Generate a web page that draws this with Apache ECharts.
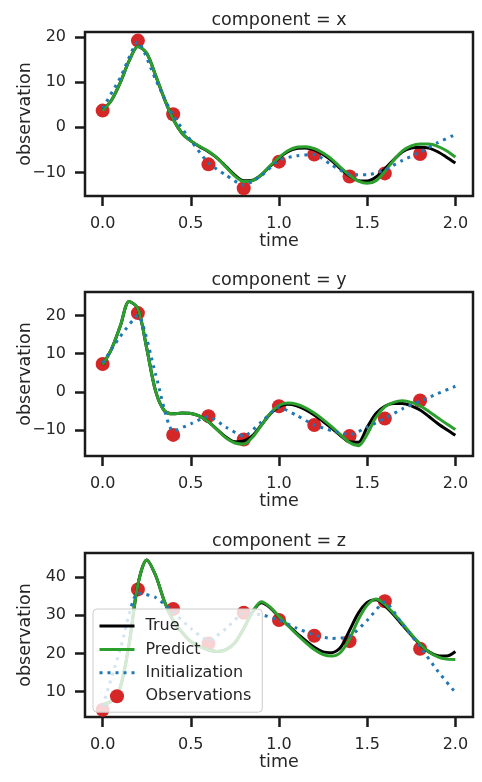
<!DOCTYPE html>
<html><head><meta charset="utf-8">
<script src="https://cdn.jsdelivr.net/npm/echarts@6/dist/echarts.min.js"></script>
<style>html,body{margin:0;padding:0;background:#fff}#c{width:482px;height:782px}</style>
</head><body><div id="c"></div>
<script>
// ---- data ----
const timeFine = [0.00,0.05,0.10,0.15,0.20,0.25,0.30,0.35,0.40,0.45,0.50,0.55,0.60,0.65,0.70,0.75,0.80,0.85,0.90,0.95,1.00,1.05,1.10,1.15,1.20,1.25,1.30,1.35,1.40,1.45,1.50,1.55,1.60,1.65,1.70,1.75,1.80,1.85,1.90,1.95,2.00];
const timeInit = [0.0,0.1,0.2,0.3,0.4,0.5,0.6,0.7,0.8,0.9,1.0,1.1,1.2,1.3,1.4,1.5,1.6,1.7,1.8,1.9,2.0];
const timeObs = [0.0,0.2,0.4,0.6,0.8,1.0,1.2,1.4,1.6,1.8];

const components = ['x','y','z'];

const trueX = [3.8,6.0,9.9,14.7,17.9,16.4,11.5,6.3,1.8,-1.3,-3.0,-4.3,-5.4,-6.8,-8.7,-10.6,-11.8,-11.7,-10.5,-8.6,-6.8,-5.4,-4.7,-4.6,-5.0,-6.0,-7.4,-9.2,-10.8,-11.8,-11.9,-11.0,-9.2,-7.2,-5.4,-4.6,-4.4,-4.6,-5.4,-6.6,-7.9];
const predX = [3.7,6.0,9.9,14.7,17.9,16.4,11.5,6.3,1.8,-1.3,-3.0,-4.2,-5.3,-6.8,-8.8,-10.8,-12.0,-11.8,-10.5,-8.5,-6.7,-5.2,-4.4,-4.3,-4.7,-5.7,-7.1,-8.9,-10.6,-11.9,-12.4,-11.8,-9.8,-7.3,-5.2,-4.1,-3.7,-3.7,-4.2,-5.2,-6.6];
const initX = [4.2,11.0,18.9,10.6,2.6,-2.9,-7.9,-10.6,-12.8,-10.7,-7.3,-6.3,-6.0,-8.4,-10.4,-10.5,-9.4,-7.3,-5.5,-3.4,-1.6];
const obsX  = [3.7,19.2,2.9,-8.2,-13.5,-7.6,-6.0,-10.9,-10.2,-5.9];

const trueY = [7.1,11.2,17.2,23.6,21.8,11.4,0.3,-4.9,-5.7,-5.5,-5.6,-6.3,-7.8,-9.8,-11.8,-13.0,-12.8,-11.4,-8.6,-5.7,-3.8,-3.2,-3.6,-4.6,-6.0,-7.7,-9.5,-11.4,-13.0,-13.1,-9.2,-5.6,-3.7,-3.0,-3.0,-3.6,-4.7,-6.4,-8.2,-9.8,-11.3];
const predY = [7.1,11.2,17.2,23.6,21.8,11.4,0.3,-4.9,-5.7,-5.5,-5.6,-6.3,-7.8,-9.9,-12.0,-13.3,-13.6,-11.8,-8.7,-5.6,-3.5,-2.9,-3.2,-4.1,-5.5,-7.2,-9.1,-11.2,-13.2,-14.0,-11.0,-6.6,-3.9,-2.7,-2.3,-2.7,-3.6,-5.1,-6.7,-8.3,-9.8];
const initY = [7.6,14.5,20.0,4.7,-10.2,-8.3,-6.4,-9.2,-11.5,-7.8,-4.0,-6.1,-8.6,-10.1,-11.1,-9.2,-6.9,-4.4,-2.4,-0.4,1.5];
const obsY  = [7.3,20.6,-11.2,-6.3,-12.4,-3.7,-8.6,-11.5,-6.9,-2.2];

const trueZ = [6.6,7.6,11.2,22.4,38.0,44.4,40.4,33.6,28.6,25.5,23.1,21.8,20.9,20.5,21.0,22.8,26.5,30.8,33.2,31.9,29.5,27.4,25.3,23.4,21.6,20.4,20.2,21.6,26.0,30.5,33.3,34.0,32.4,30.1,27.4,24.8,22.3,20.4,19.4,19.3,20.5];
const predZ = [6.6,7.6,11.2,22.4,38.0,44.4,40.4,33.6,28.6,25.5,23.1,21.8,20.9,20.5,21.0,22.8,26.5,30.9,33.5,32.1,29.6,27.3,25.0,22.9,21.0,19.7,19.3,20.3,23.8,28.8,32.6,34.2,32.8,30.4,27.8,25.0,22.4,20.4,19.1,18.5,18.4];
const initZ = [6.2,21.0,35.8,34.6,30.8,26.5,23.4,26.5,30.4,30.1,28.7,26.6,24.8,23.9,24.4,28.6,33.4,27.6,21.7,15.4,9.8];
const obsZ  = [5.3,36.7,31.6,22.6,30.6,28.7,24.6,23.2,33.6,21.2];

const xTicks = [0, 0.5, 1.0, 1.5, 2.0];
const yTicksX = [-10, 0, 10, 20];
const yTicksY = [-10, 0, 10, 20];
const yTicksZ = [10, 20, 30, 40];

// ---- layout/style ----
const FONT = 'DejaVu Sans';
const TXT = '#262626';
const panels = [
  {comp: components[0], tr: trueX, pr: predX, ini: initX, obs: obsX, yt: yTicksX, ymin: -15.2, ymax: 21.1, top: 32},
  {comp: components[1], tr: trueY, pr: predY, ini: initY, obs: obsY, yt: yTicksY, ymin: -16.7, ymax: 26.1, top: 292},
  {comp: components[2], tr: trueZ, pr: predZ, ini: initZ, obs: obsZ, yt: yTicksZ, ymin: 3.4, ymax: 46.2, top: 553}
];
const GL = 85, GW = 388, GH = 164;

const zip = (t, v) => t.map((x, i) => [x, v[i]]);
const fmtY = v => (v < 0 ? '\u2212' + Math.abs(v) : String(v));

const grid = [], xAxis = [], yAxis = [], series = [], graphic = [];
panels.forEach((p, i) => {
  grid.push({left: GL, top: p.top, width: GW, height: GH, containLabel: false, outerBoundsMode: 'none',
    show: true, borderColor: '#1a1a1a', borderWidth: 2.5, backgroundColor: 'transparent'});
  xAxis.push({
    type: 'value', gridIndex: i, min: -0.1, max: 2.1, position: 'bottom',
    name: 'time', nameLocation: 'middle', nameGap: 36, nameMoveOverlap: false,
    nameTextStyle: {fontFamily: FONT, fontSize: 17.5, color: TXT},
    axisLine: {show: false, onZero: false},
    splitLine: {show: false},
    axisTick: {show: true, length: 10, customValues: xTicks, lineStyle: {color: '#1a1a1a', width: 2.5}},
    axisLabel: {customValues: xTicks, formatter: v => v.toFixed(1), margin: 20, fontFamily: FONT, fontSize: 16, color: TXT}
  });
  yAxis.push({
    type: 'value', gridIndex: i, min: p.ymin, max: p.ymax, position: 'left',
    name: 'observation', nameLocation: 'middle', nameGap: 51, nameRotate: 90, nameMoveOverlap: false,
    nameTextStyle: {fontFamily: FONT, fontSize: 17.5, color: TXT},
    axisLine: {show: false, onZero: false},
    splitLine: {show: false},
    axisTick: {show: true, length: 10, customValues: p.yt, lineStyle: {color: '#1a1a1a', width: 2.5}},
    axisLabel: {customValues: p.yt, formatter: fmtY, margin: 19, fontFamily: FONT, fontSize: 16, color: TXT}
  });
  series.push({
    name: 'Observations', type: 'scatter', xAxisIndex: i, yAxisIndex: i, z: 1,
    symbol: 'circle', symbolSize: 14, itemStyle: {color: '#d62728', opacity: 1},
    data: zip(timeObs, p.obs)
  });
  series.push({
    name: 'True', type: 'line', xAxisIndex: i, yAxisIndex: i, z: 2,
    symbol: 'none', smooth: 0.3, lineStyle: {color: '#000000', width: 3}, itemStyle: {color: '#000000'},
    data: zip(timeFine, p.tr)
  });
  series.push({
    name: 'Predict', type: 'line', xAxisIndex: i, yAxisIndex: i, z: 3,
    symbol: 'none', smooth: 0.3, lineStyle: {color: '#2ca02c', width: 3}, itemStyle: {color: '#2ca02c'},
    data: zip(timeFine, p.pr)
  });
  series.push({
    name: 'Initialization', type: 'line', xAxisIndex: i, yAxisIndex: i, z: 4,
    symbol: 'none', smooth: 0.2, lineStyle: {color: '#1f77b4', width: 3, type: [3, 5], cap: 'butt'}, itemStyle: {color: '#1f77b4'},
    data: zip(timeInit, p.ini)
  });
  graphic.push({
    type: 'text', x: GL + GW / 2, y: p.top - 12,
    style: {text: 'component = ' + p.comp, x: 0, y: 0, textAlign: 'center', textVerticalAlign: 'middle', font: '17.5px "DejaVu Sans"', fill: TXT}
  });
});

const hideSym = {opacity: 0, borderWidth: 0};
const chart = echarts.init(document.getElementById('c'), null, {renderer: 'canvas'});
chart.setOption({
  animation: false,
  backgroundColor: '#ffffff',
  grid, xAxis, yAxis, series, graphic,
  legend: {
    orient: 'vertical', left: 93, top: 609,
    padding: [9, 11, 8, 5], itemGap: 7.4, itemWidth: 35, itemHeight: 14,
    backgroundColor: 'rgba(255,255,255,0.8)', borderColor: '#cccccc', borderWidth: 1, borderRadius: 4,
    textStyle: {fontFamily: FONT, fontSize: 16, color: TXT, padding: [0, 0, 0, 6]},
    lineStyle: {width: 3},
    z: 10,
    data: [
      {name: 'True', itemStyle: hideSym},
      {name: 'Predict', itemStyle: hideSym},
      {name: 'Initialization', itemStyle: hideSym},
      {name: 'Observations'}
    ]
  }
});
</script>
</body></html>
